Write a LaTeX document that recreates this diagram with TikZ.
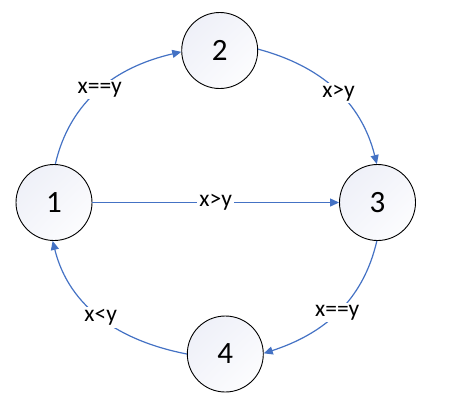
\documentclass[tikz,border=0pt]{standalone}
\usepackage{fontspec}
\setmainfont{Carlito}
\usetikzlibrary{arrows.meta,shadings}
\definecolor{edgeblue}{RGB}{68,114,196}
\definecolor{fillA}{RGB}{236,238,247}
\definecolor{fillB}{RGB}{245,246,251}
\begin{document}
\begin{tikzpicture}[x=1pt,y=1pt,
  state/.style={circle, draw=black, line width=0.9pt, minimum size=76pt, inner sep=0pt,
    shade, upper left=fillA, lower right=white, upper right=fillB, lower left=fillB,
    font=\fontsize{31}{31}\selectfont},
  trans/.style={draw=edgeblue, line width=1.2pt, -{Triangle[length=9pt,width=8pt]}},
  lbl/.style={fill=white, inner sep=2pt, text=black, font=\fontsize{23.5}{24}\selectfont}]
\useasboundingbox (0,0) rectangle (471,-416);
\node[state] (n1) at (54,-202.5) {1};
\node[state] (n2) at (219.7,-50.5) {2};
\node[state] (n3) at (377.5,-202.5) {3};
\node[state] (n4) at (225.3,-354) {4};
\draw[trans] (n1.88) to[out=77,in=193] node[lbl]{x==y} (n2.182);
\draw[trans] (n2.2) to[out=-15,in=104] node[lbl,pos=0.53]{x>y} (n3.91);
\draw[trans] (n3.269) to[out=-103,in=18] node[lbl]{x==y} (n4.1);
\draw[trans] (n4.180) to[out=169,in=-76] node[lbl]{x<y} (n1.268);
\draw[trans] (n1) -- node[lbl]{x>y} (n3);
\end{tikzpicture}
\end{document}
